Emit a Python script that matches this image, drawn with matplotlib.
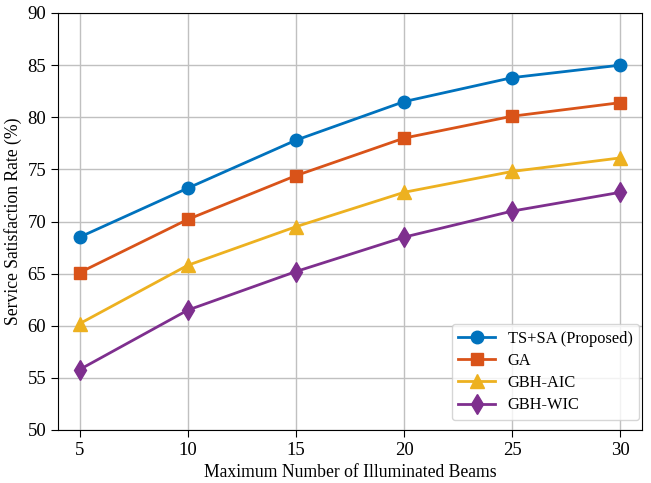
import matplotlib.pyplot as plt

# Beams vs satisfaction rate
beams = [5, 10, 15, 20, 25, 30]
ts_sa = [68.5, 73.2, 77.8, 81.5, 83.8, 85.0]
ga = [65.1, 70.2, 74.4, 78.0, 80.1, 81.4]
gbh_aic = [60.2, 65.8, 69.5, 72.8, 74.8, 76.1]
gbh_wic = [55.8, 61.5, 65.2, 68.5, 71.0, 72.8]

plt.rcParams['font.family'] = ['Liberation Serif', 'DejaVu Serif']
plt.rcParams['font.size'] = 13

fig = plt.figure(figsize=(6.51, 4.83), dpi=100)
ax = fig.add_axes([58/651, 1 - 430/483, 584/651, 417/483])

ax.plot(beams, ts_sa, '-o', color='#0072BD', lw=2, ms=9, label='TS+SA (Proposed)')
ax.plot(beams, ga, '-s', color='#D95319', lw=2, ms=9, label='GA')
ax.plot(beams, gbh_aic, '-^', color='#EDB120', lw=2, ms=10, label='GBH-AIC')
ax.plot(beams, gbh_wic, '-d', color='#7E2F8E', lw=2, ms=10, label='GBH-WIC')

ax.set_xlim(4, 31)
ax.set_ylim(50, 90)
ax.set_xticks(beams)
ax.set_yticks(range(50, 91, 5))
ax.grid(True, color='#c0c0c0', lw=1)
ax.set_axisbelow(True)
ax.tick_params(direction='out', length=5, labelsize=13.5)
ax.set_xlabel('Maximum Number of Illuminated Beams', fontsize=12.7)
ax.set_ylabel('Service Satisfaction Rate (%)', fontsize=12.7)
ax.legend(loc='lower right', bbox_to_anchor=(0.995, 0.024), borderaxespad=0,
          fontsize=11.8, handlelength=2.2, borderpad=0.4, labelspacing=0.38)

fig.savefig('out.png', dpi=100)
